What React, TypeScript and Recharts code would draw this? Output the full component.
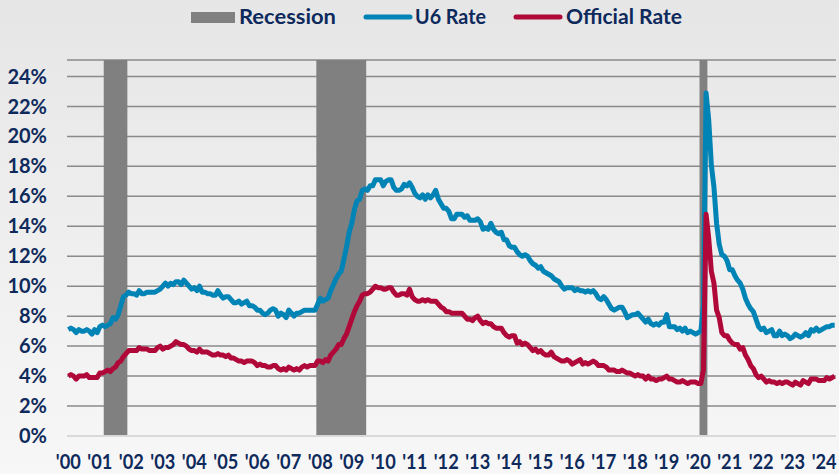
import { ComposedChart, Line, XAxis, YAxis, CartesianGrid, ReferenceArea } from 'recharts';

// monthly, Jan 2000 - May 2024
const years = ['2000', '2001', '2002', '2003', '2004', '2005', '2006', '2007', '2008', '2009', '2010', '2011', '2012',
  '2013', '2014', '2015', '2016', '2017', '2018', '2019', '2020', '2021', '2022', '2023', '2024'];
const monthNums = ['01', '02', '03', '04', '05', '06', '07', '08', '09', '10', '11', '12'];

const u6Rate = [
  7.1, 7.2, 7.1, 6.9, 7.1, 7.0, 7.0, 7.1, 7.0, 6.8, 7.1, 6.9,
  7.3, 7.4, 7.3, 7.4, 7.5, 7.9, 7.8, 8.1, 8.7, 9.3, 9.4, 9.6,
  9.5, 9.5, 9.4, 9.7, 9.5, 9.5, 9.6, 9.6, 9.6, 9.6, 9.7, 9.8,
  10.0, 10.2, 10.0, 10.2, 10.1, 10.3, 10.3, 10.1, 10.4, 10.2, 10.0, 9.8,
  9.9, 9.7, 10.0, 9.6, 9.6, 9.5, 9.5, 9.4, 9.4, 9.7, 9.4, 9.2,
  9.3, 9.3, 9.1, 8.9, 8.9, 9.0, 8.8, 8.9, 9.0, 8.7, 8.7, 8.6,
  8.4, 8.4, 8.2, 8.1, 8.2, 8.4, 8.5, 8.4, 8.0, 8.2, 8.1, 7.9,
  8.4, 8.2, 8.0, 8.2, 8.2, 8.3, 8.4, 8.4, 8.4, 8.4, 8.4, 8.8,
  9.2, 9.0, 9.1, 9.2, 9.7, 10.1, 10.5, 10.8, 11.0, 11.8, 12.6, 13.6,
  14.2, 15.1, 15.7, 15.8, 16.4, 16.5, 16.4, 16.7, 16.7, 17.1, 17.1, 17.1,
  16.7, 17.0, 17.1, 17.1, 16.6, 16.4, 16.4, 16.5, 16.8, 16.7, 16.9, 16.6,
  16.2, 16.0, 15.9, 16.1, 15.8, 16.1, 15.9, 16.1, 16.4, 15.8, 15.5, 15.2,
  15.2, 15.0, 14.5, 14.5, 14.8, 14.8, 14.8, 14.6, 14.7, 14.4, 14.4, 14.4,
  14.5, 14.3, 13.8, 13.9, 13.8, 14.2, 13.8, 13.6, 13.5, 13.6, 13.1, 13.1,
  12.7, 12.6, 12.6, 12.3, 12.1, 12.0, 12.1, 12.0, 11.7, 11.5, 11.4, 11.2,
  11.3, 11.0, 10.9, 10.8, 10.7, 10.5, 10.4, 10.3, 10.0, 9.8, 9.9, 9.9,
  9.9, 9.7, 9.8, 9.7, 9.7, 9.6, 9.7, 9.6, 9.7, 9.5, 9.2, 9.1,
  9.3, 9.1, 8.8, 8.5, 8.4, 8.5, 8.6, 8.6, 8.3, 7.9, 8.0, 8.1,
  8.1, 8.2, 8.0, 7.8, 7.6, 7.8, 7.5, 7.4, 7.5, 7.4, 7.6, 7.6,
  8.1, 7.3, 7.3, 7.3, 7.1, 7.2, 7.0, 7.2, 6.9, 7.0, 6.9, 6.8,
  6.9, 7.0, 8.7, 22.9, 21.1, 18.1, 16.6, 14.2, 12.8, 12.1, 12.0, 11.7,
  11.1, 11.1, 10.7, 10.4, 10.2, 9.8, 9.2, 8.8, 8.5, 8.3, 7.8, 7.3,
  7.1, 7.2, 6.9, 7.0, 7.1, 6.7, 6.7, 7.0, 6.7, 6.8, 6.7, 6.5,
  6.6, 6.8, 6.7, 6.6, 6.7, 6.9, 6.7, 7.1, 7.0, 7.2, 7.0, 7.1,
  7.2, 7.3, 7.3, 7.4, 7.4,
];

const officialRate = [
  4.0, 4.1, 4.0, 3.8, 4.0, 4.0, 4.0, 4.1, 3.9, 3.9, 3.9, 3.9,
  4.2, 4.2, 4.3, 4.4, 4.3, 4.5, 4.6, 4.9, 5.0, 5.3, 5.5, 5.7,
  5.7, 5.7, 5.7, 5.9, 5.8, 5.8, 5.8, 5.7, 5.7, 5.7, 5.9, 6.0,
  5.8, 5.9, 5.9, 6.0, 6.1, 6.3, 6.2, 6.1, 6.1, 6.0, 5.8, 5.7,
  5.7, 5.6, 5.8, 5.6, 5.6, 5.6, 5.5, 5.4, 5.4, 5.5, 5.4, 5.4,
  5.3, 5.4, 5.2, 5.2, 5.1, 5.0, 5.0, 4.9, 5.0, 5.0, 5.0, 4.9,
  4.7, 4.8, 4.7, 4.7, 4.6, 4.6, 4.7, 4.7, 4.5, 4.4, 4.5, 4.4,
  4.6, 4.5, 4.4, 4.5, 4.4, 4.6, 4.7, 4.6, 4.7, 4.7, 4.7, 5.0,
  5.0, 4.9, 5.1, 5.0, 5.4, 5.6, 5.8, 6.1, 6.1, 6.5, 6.8, 7.3,
  7.8, 8.3, 8.7, 9.0, 9.4, 9.5, 9.5, 9.6, 9.8, 10.0, 9.9, 9.9,
  9.8, 9.8, 9.9, 9.9, 9.6, 9.4, 9.4, 9.5, 9.5, 9.4, 9.8, 9.3,
  9.1, 9.0, 9.0, 9.1, 9.0, 9.1, 9.0, 9.0, 9.0, 8.8, 8.6, 8.5,
  8.3, 8.3, 8.2, 8.2, 8.2, 8.2, 8.2, 8.0, 7.8, 7.8, 7.7, 7.9,
  8.0, 7.7, 7.5, 7.6, 7.5, 7.5, 7.3, 7.2, 7.2, 7.2, 6.9, 6.7,
  6.6, 6.7, 6.7, 6.2, 6.3, 6.1, 6.2, 6.1, 5.9, 5.7, 5.8, 5.6,
  5.7, 5.5, 5.4, 5.4, 5.6, 5.3, 5.2, 5.1, 5.0, 5.0, 5.1, 5.0,
  4.8, 4.9, 5.0, 5.1, 4.8, 4.9, 4.8, 4.9, 5.0, 4.9, 4.7, 4.7,
  4.7, 4.6, 4.4, 4.4, 4.4, 4.3, 4.3, 4.4, 4.3, 4.2, 4.2, 4.1,
  4.0, 4.1, 4.0, 4.0, 3.8, 4.0, 3.8, 3.8, 3.7, 3.8, 3.8, 3.9,
  4.0, 3.8, 3.8, 3.7, 3.6, 3.6, 3.7, 3.6, 3.5, 3.6, 3.6, 3.6,
  3.5, 3.5, 4.4, 14.8, 13.2, 11.0, 10.2, 8.4, 7.9, 6.9, 6.7, 6.7,
  6.4, 6.2, 6.1, 6.1, 5.8, 5.9, 5.4, 5.1, 4.7, 4.5, 4.1, 3.9,
  4.0, 3.8, 3.6, 3.7, 3.6, 3.6, 3.5, 3.6, 3.5, 3.6, 3.6, 3.5,
  3.4, 3.6, 3.5, 3.4, 3.7, 3.6, 3.5, 3.8, 3.8, 3.8, 3.7, 3.7,
  3.7, 3.9, 3.8, 3.9, 4.0,
];

const recessions = [
  { start: '2001-03', end: '2001-11' },
  { start: '2007-12', end: '2009-06' },
  { start: '2020-02', end: '2020-04' },
];

const yTicks = [0, 2, 4, 6, 8, 10, 12, 14, 16, 18, 20, 22, 24];

const months = years.flatMap((y) => monthNums.map((m) => `${y}-${m}`)).slice(0, u6Rate.length);
const data = months.map((month, i) => ({ month, u6: u6Rate[i], official: officialRate[i] }));

const NAVY = '#0e2a5c';
const BLUE = '#0083b5';
const RED = '#b1083a';
const GREY = '#808080';

const XTick = (props: any) => {
  const { x, y, payload } = props;
  return (
    <text x={x} y={y} dy={14} textAnchor="middle" fontSize={20} fontWeight={700} fill={NAVY}
      fontFamily="Lato" textLength={25} lengthAdjust="spacingAndGlyphs">
      {`'${payload.value.slice(2, 4)}`}
    </text>
  );
};

const legendText = { fontSize: 20, fontWeight: 700, fill: NAVY, fontFamily: 'Lato' };

const LegendBar = () => (
  <svg width={839} height={40} style={{ position: 'absolute', left: 0, top: 0 }}>
    <rect x={191} y={12} width={44} height={11} fill={GREY} />
    <text x={239} y={24} {...legendText} textLength={97} lengthAdjust="spacingAndGlyphs">Recession</text>
    <line x1={366} y1={17} x2={410} y2={17} stroke={BLUE} strokeWidth={5} strokeLinecap="round" />
    <text x={415} y={24} {...legendText} textLength={71} lengthAdjust="spacingAndGlyphs">U6 Rate</text>
    <line x1={516} y1={17} x2={560} y2={17} stroke={RED} strokeWidth={5} strokeLinecap="round" />
    <text x={566} y={24} {...legendText} textLength={116} lengthAdjust="spacingAndGlyphs">Official Rate</text>
  </svg>
);

export default function App() {
  return (
    <div style={{ position: 'relative', width: 839, height: 474, background: 'linear-gradient(#e6e6e6, #f7f7f7)' }}>
      <style>{'body{margin:0}'}</style>
      <ComposedChart width={839} height={474} data={data} margin={{ top: 60, right: 3, bottom: 0, left: 0 }}>
        <CartesianGrid vertical={false} stroke="#8a8a8a" strokeWidth={1.5} />
        <XAxis
          dataKey="month"
          scale="band"
          interval={11}
          tick={<XTick />}
          tickLine={false}
          tickSize={0}
          tickMargin={19}
          height={38}
          axisLine={{ stroke: '#d9d9d9', strokeWidth: 2 }}
        />
        <YAxis
          domain={[0, 25.1]}
          ticks={yTicks}
          width={67}
          tickFormatter={(v) => `${v}%`}
          tick={{ fontSize: 20, fontWeight: 700, fill: NAVY, fontFamily: 'Lato' }}
          tickLine={false}
          axisLine={false}
          tickSize={0}
          tickMargin={20}
        />
        {recessions.map((r) => (
          <ReferenceArea key={r.start} x1={r.start} x2={r.end} fill={GREY} fillOpacity={1} stroke="none" ifOverflow="visible" />
        ))}
        <Line dataKey="u6" name="U6 Rate" type="linear" stroke={BLUE} strokeWidth={5} strokeLinejoin="round" dot={false} activeDot={false} isAnimationActive={false} />
        <Line dataKey="official" name="Official Rate" type="linear" stroke={RED} strokeWidth={5} strokeLinejoin="round" dot={false} activeDot={false} isAnimationActive={false} />
      </ComposedChart>
      <LegendBar />
    </div>
  );
}
